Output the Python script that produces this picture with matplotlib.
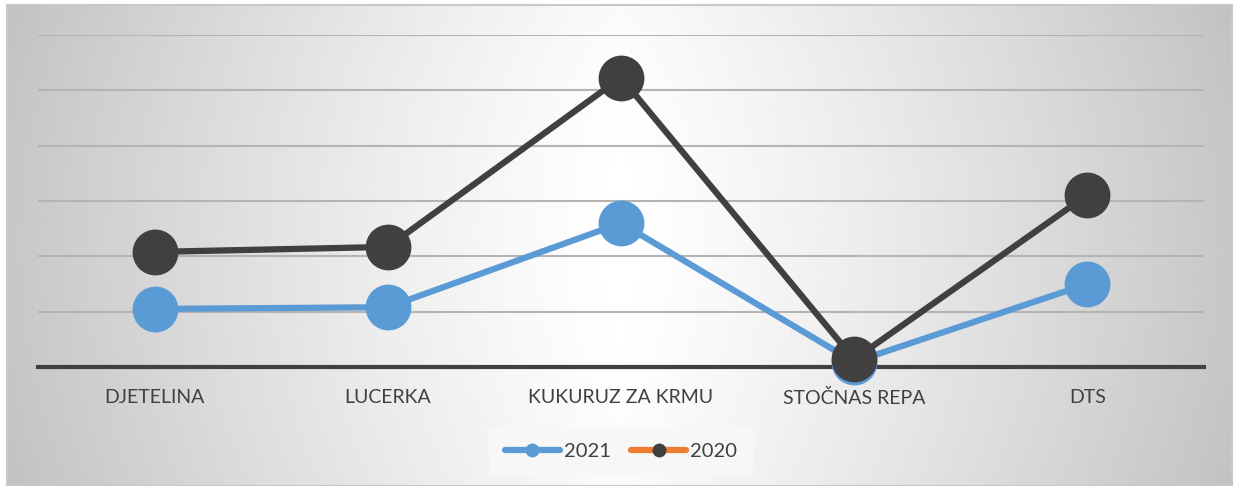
import matplotlib.pyplot as plt
import numpy as np
from matplotlib.lines import Line2D

categories = ['DJETELINA', 'LUCERKA', 'KUKURUZ ZA KRMU', 'STOČNAS REPA', 'DTS']
vals_2021 = [1.05, 1.08, 2.6, 0.09, 1.5]
vals_2020 = [2.08, 2.17, 5.23, 0.14, 3.11]

plt.rcParams['font.family'] = ['Lato', 'DejaVu Sans']

fig = plt.figure(figsize=(12.34, 4.86), dpi=100)

# gradient background of the chart area: white in the middle, grey to the sides
bg = fig.add_axes([7 / 1234, 0, 1225 / 1234, 481 / 486])
gx, gy = np.meshgrid(np.linspace(-1, 1, 600), np.linspace(-1, 1, 300))
shade = 1.0 - 0.22 * np.abs(gx) ** 1.2 - 0.02 * np.abs(gy) ** 2
bg.imshow(shade, cmap='gray', vmin=0, vmax=1, aspect='auto', extent=(0, 1, 0, 1))
bg.set_xlim(0, 1)
bg.set_ylim(0, 1)
bg.set_xticks([])
bg.set_yticks([])
for s in bg.spines.values():
    s.set_color('#c8c8c8')
    s.set_linewidth(1.5)

ax = fig.add_axes([38 / 1234, 1 - 367 / 486, 1166 / 1234, 332 / 486])
ax.patch.set_alpha(0)
x = np.arange(len(categories))
ax.set_xlim(-0.5, len(categories) - 0.5)
ax.set_ylim(0, 6)
ax.set_yticks(np.arange(1, 7))
ax.yaxis.grid(True, color='#b4b4b4', linewidth=1.5)
ax.set_axisbelow(True)
ax.tick_params(axis='y', left=False, labelleft=False)
ax.tick_params(axis='x', length=0, pad=16, labelsize=14, labelcolor='#404040')
ax.set_xticks(x)
ax.set_xticklabels(categories)
for s in ['top', 'right', 'left']:
    ax.spines[s].set_visible(False)
ax.spines['bottom'].set_color('#404040')
ax.spines['bottom'].set_linewidth(3)

ax.plot(x, vals_2021, color='#5b9bd5', linewidth=4.5, marker='o',
        markersize=33, markerfacecolor='#5b9bd5', markeredgewidth=0, clip_on=False, zorder=3)
ax.plot(x, vals_2020, color='#404040', linewidth=4.5, marker='o',
        markersize=33, markerfacecolor='#404040', markeredgewidth=0, clip_on=False, zorder=4)

handles = [
    Line2D([], [], color='#5b9bd5', linewidth=4.5, marker='o', markersize=10,
           markerfacecolor='#5b9bd5', markeredgewidth=0, solid_capstyle='round'),
    Line2D([], [], color='#ed7d31', linewidth=4.5, marker='o', markersize=10,
           markerfacecolor='#404040', markeredgewidth=0, solid_capstyle='round'),
]
leg = fig.legend(handles, ['2021', '2020'], loc='center', bbox_to_anchor=(621 / 1234, 1 - 451 / 486),
                 ncol=2, frameon=True, fancybox=False, fontsize=14.5, handlelength=2.75,
                 handletextpad=0.2, columnspacing=1.0, borderpad=0.75)
leg.get_frame().set_facecolor('#f7f7f7')
leg.get_frame().set_edgecolor('none')
leg.get_frame().set_alpha(1)
for t in leg.get_texts():
    t.set_color('#404040')

fig.savefig('out.png', dpi=100)
